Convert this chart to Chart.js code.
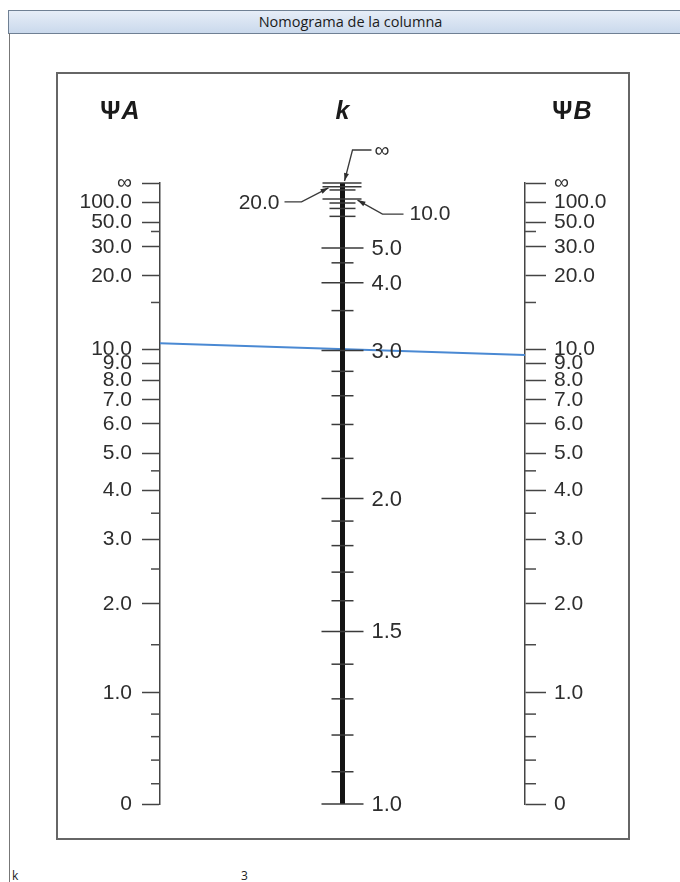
<!DOCTYPE html>
<html>
<head>
<meta charset="utf-8">
<title>Nomograma de la columna</title>
<script src="https://cdn.jsdelivr.net/npm/chart.js@4.4.1/dist/chart.umd.min.js"></script>
<style>
body { margin: 0; width: 680px; height: 882px; background: #fff; position: relative; overflow: hidden; }
#bar { position: absolute; left: 8px; top: 10px; width: 672px; height: 24px; box-sizing: border-box;
       border: 1px solid #6f8094; border-right: none;
       background: linear-gradient(#e6edf7, #cad9ec); text-align: center; padding-left: 12px;
       font: 14.5px "Open Sans", sans-serif; line-height: 21px; color: #1b1b1b; }
#side { position: absolute; left: 9px; top: 33px; height: 849px; border-left: 1px solid #777; }
#box { position: absolute; left: 56px; top: 72px; width: 570px; height: 764px; border: 2px solid #666; }
.foot { position: absolute; top: 867px; font: 12px "Open Sans", sans-serif; color: #222; }
canvas { position: absolute; left: 0; top: 0; }
</style>
</head>
<body>
<div id="bar">Nomograma de la columna</div>
<div id="side"></div>
<div id="box"></div>
<div class="foot" style="left:12px">k</div>
<div class="foot" style="left:241px">3</div>
<canvas id="nomo" width="680" height="882"></canvas>
<script>
// psi scales (same for A and B)
var psiValues = [Infinity, 100, 50, 30, 20, 10, 9, 8, 7, 6, 5, 4, 3, 2, 1, 0];
var psiLabels = ['∞', '100.0', '50.0', '30.0', '20.0', '10.0', '9.0', '8.0', '7.0', '6.0', '5.0', '4.0', '3.0', '2.0', '1.0', '0'];
var psiMinor = [40, 15, 4.5, 3.5, 2.5, 1.5, 0.8, 0.6, 0.4, 0.2];

// k scale
var kValues = [5, 4, 3, 2, 1.5, 1];
var kLabels = ['5.0', '4.0', '3.0', '2.0', '1.5', '1.0'];
var kMinor = [15, 9, 8, 7, 4.5, 3.5, 2.8, 2.6, 2.4, 2.2, 1.9, 1.8, 1.7, 1.6, 1.4, 1.3, 1.2, 1.1];
var kCallouts = [Infinity, 20, 10];
var kCalloutLabels = ['∞', '20.0', '10.0'];

// the blue line
var psiA = 10.5;
var psiB = 9.6;

// position along a psi scale, 0 at bottom, 1 at infinity
function posPsi(g) {
  if (!isFinite(g)) return 1;
  var t = Math.pow(g, 1.045);
  return Math.pow(t / (t + 3.46), 1.15);
}

// k scale sits where a line with psiA = psiB crosses (sway frame equation)
function posK(k) {
  if (!isFinite(k)) return 1;
  var x = Math.PI / k;
  var r = x / Math.tan(x);
  var g = 6 / (Math.sqrt(r * r + x * x) - r);
  return posPsi(g);
}

class NomoScale extends Chart.LinearScale {
  static id = 'nomo';
  static defaults = {};
  getPixelForValue(value) {
    var p = this.options.nomo === 'k' ? posK(value) : posPsi(value);
    return this.getPixelForDecimal(p);
  }
}
Chart.register(NomoScale);

var fam = '"Liberation Sans", Arial, sans-serif';
var labelFont = '21px ' + fam;

function seg(ctx, x1, y1, x2, y2) {
  ctx.beginPath();
  ctx.moveTo(x1, y1);
  ctx.lineTo(x2, y2);
  ctx.stroke();
}

function leader(ctx, pts) {
  ctx.beginPath();
  ctx.moveTo(pts[0][0], pts[0][1]);
  for (var i = 1; i < pts.length; i++) ctx.lineTo(pts[i][0], pts[i][1]);
  ctx.stroke();
  var a = pts[pts.length - 2], b = pts[pts.length - 1];
  var ang = Math.atan2(b[1] - a[1], b[0] - a[0]);
  ctx.beginPath();
  ctx.moveTo(b[0], b[1]);
  ctx.lineTo(b[0] - 8 * Math.cos(ang) + 2.5 * Math.sin(ang), b[1] - 8 * Math.sin(ang) - 2.5 * Math.cos(ang));
  ctx.lineTo(b[0] - 8 * Math.cos(ang) - 2.5 * Math.sin(ang), b[1] - 8 * Math.sin(ang) + 2.5 * Math.cos(ang));
  ctx.closePath();
  ctx.fill();
}

// upright bold psi followed by an italic letter, centred on cx
function psiTitle(ctx, letter, cx, y) {
  ctx.font = 'bold 25px ' + fam;
  var w1 = ctx.measureText('Ψ').width;
  ctx.font = 'bold italic 25px ' + fam;
  var w2 = ctx.measureText(letter).width;
  var x0 = cx - (w1 + w2 + 1) / 2;
  ctx.textAlign = 'left';
  ctx.font = 'bold 25px ' + fam;
  ctx.fillText('Ψ', x0, y);
  ctx.font = 'bold italic 25px ' + fam;
  ctx.fillText(letter, x0 + w1 + 1, y);
}

var nomoPlugin = {
  id: 'nomoPlugin',
  afterDatasetsDraw: function (chart) {
    var ctx = chart.ctx;
    var xs = chart.scales.x, yA = chart.scales.yA, yB = chart.scales.yB, yK = chart.scales.yK;
    var xA = xs.getPixelForValue(0), xK = xs.getPixelForValue(1), xB = xs.getPixelForValue(2);
    ctx.save();

    // minor ticks on psi scales
    ctx.strokeStyle = '#4a4a4a';
    ctx.lineWidth = 1.5;
    psiMinor.forEach(function (v) {
      var ya = yA.getPixelForValue(v), yb = yB.getPixelForValue(v);
      seg(ctx, xA - 9, ya, xA, ya);
      seg(ctx, xB, yb, xB + 11, yb);
    });

    // k axis
    ctx.strokeStyle = '#141414';
    ctx.lineWidth = 5;
    seg(ctx, xK, yK.getPixelForValue(Infinity), xK, yK.getPixelForValue(1));

    ctx.strokeStyle = '#3a3a3a';
    ctx.lineWidth = 1.5;
    kValues.forEach(function (v) {
      var y = yK.getPixelForValue(v);
      seg(ctx, xK - 21, y, xK + 21, y);
    });
    kCallouts.forEach(function (v) {
      var y = yK.getPixelForValue(v);
      seg(ctx, xK - 20, y, xK + 19, y);
    });
    kMinor.forEach(function (v) {
      var y = yK.getPixelForValue(v);
      var h = v > 5 ? 13 : 11;
      seg(ctx, xK - h, y, xK + h, y);
    });

    ctx.fillStyle = '#2e2e2e';
    ctx.font = '22px ' + fam;
    ctx.textBaseline = 'middle';
    ctx.textAlign = 'left';
    kValues.forEach(function (v, i) {
      ctx.fillText(kLabels[i], xK + 29, yK.getPixelForValue(v) + 1);
    });

    // callouts for the crowded top of the k scale
    ctx.font = labelFont;
    ctx.lineWidth = 1.3;
    var yInf = yK.getPixelForValue(kCallouts[0]);
    var y20 = yK.getPixelForValue(kCallouts[1]);
    var y10 = yK.getPixelForValue(kCallouts[2]);
    leader(ctx, [[xK + 29, yInf - 33], [xK + 10, yInf - 33], [xK + 2, yInf - 2]]);
    ctx.fillText(kCalloutLabels[0], xK + 32, yInf - 32);
    leader(ctx, [[xK - 58, y20 + 15], [xK - 41, y20 + 15], [xK - 14, y20 + 1]]);
    ctx.textAlign = 'right';
    ctx.fillText(kCalloutLabels[1], xK - 63, y20 + 16);
    leader(ctx, [[xK + 61, y10 + 15], [xK + 40, y10 + 15], [xK + 15, y10 + 1]]);
    ctx.textAlign = 'left';
    ctx.fillText(kCalloutLabels[2], xK + 67, y10 + 15);

    // scale titles
    ctx.fillStyle = '#1a1a1a';
    var ty = chart.chartArea.top - 71;
    psiTitle(ctx, 'A', xA - 40, ty);
    psiTitle(ctx, 'B', xB + 47, ty);
    ctx.font = 'bold italic 25px ' + fam;
    ctx.textAlign = 'center';
    ctx.fillText('k', xK, ty);
    ctx.restore();
  }
};

function psiAxis(position, tickLen, pad) {
  return {
    type: 'nomo',
    nomo: 'psi',
    position: position,
    min: 0,
    max: 100,
    afterBuildTicks: function (scale) {
      scale.ticks = psiValues.map(function (v) { return { value: v }; });
    },
    afterFit: function (scale) { scale.width = 100; },
    ticks: {
      autoSkip: false,
      padding: pad,
      color: '#2e2e2e',
      font: { family: fam, size: 21 },
      callback: function (value, index) { return psiLabels[index]; }
    },
    grid: { drawOnChartArea: false, tickLength: tickLen, tickWidth: 1.5, tickColor: '#444' },
    border: { display: true, color: '#444', width: 1.5 }
  };
}

new Chart(document.getElementById('nomo'), {
  type: 'scatter',
  data: {
    datasets: [{
      label: 'k',
      data: [{ x: 0, y: psiA }, { x: 2, y: psiB }],
      yAxisID: 'yA',
      showLine: true,
      borderColor: '#4a89d3',
      borderWidth: 2,
      pointRadius: 0,
      clip: false
    }]
  },
  options: {
    responsive: false,
    animation: false,
    devicePixelRatio: 1,
    events: [],
    layout: { padding: { left: 60, right: 55, top: 183, bottom: 78 } },
    plugins: { legend: { display: false }, tooltip: { enabled: false } },
    scales: {
      x: { type: 'linear', min: 0, max: 2, display: false },
      yA: psiAxis('left', 18, 10),
      yB: psiAxis('right', 21, 8),
      yK: { type: 'nomo', nomo: 'k', position: 'left', min: 0, max: 100, display: false }
    }
  },
  plugins: [nomoPlugin]
});
</script>
</body>
</html>
